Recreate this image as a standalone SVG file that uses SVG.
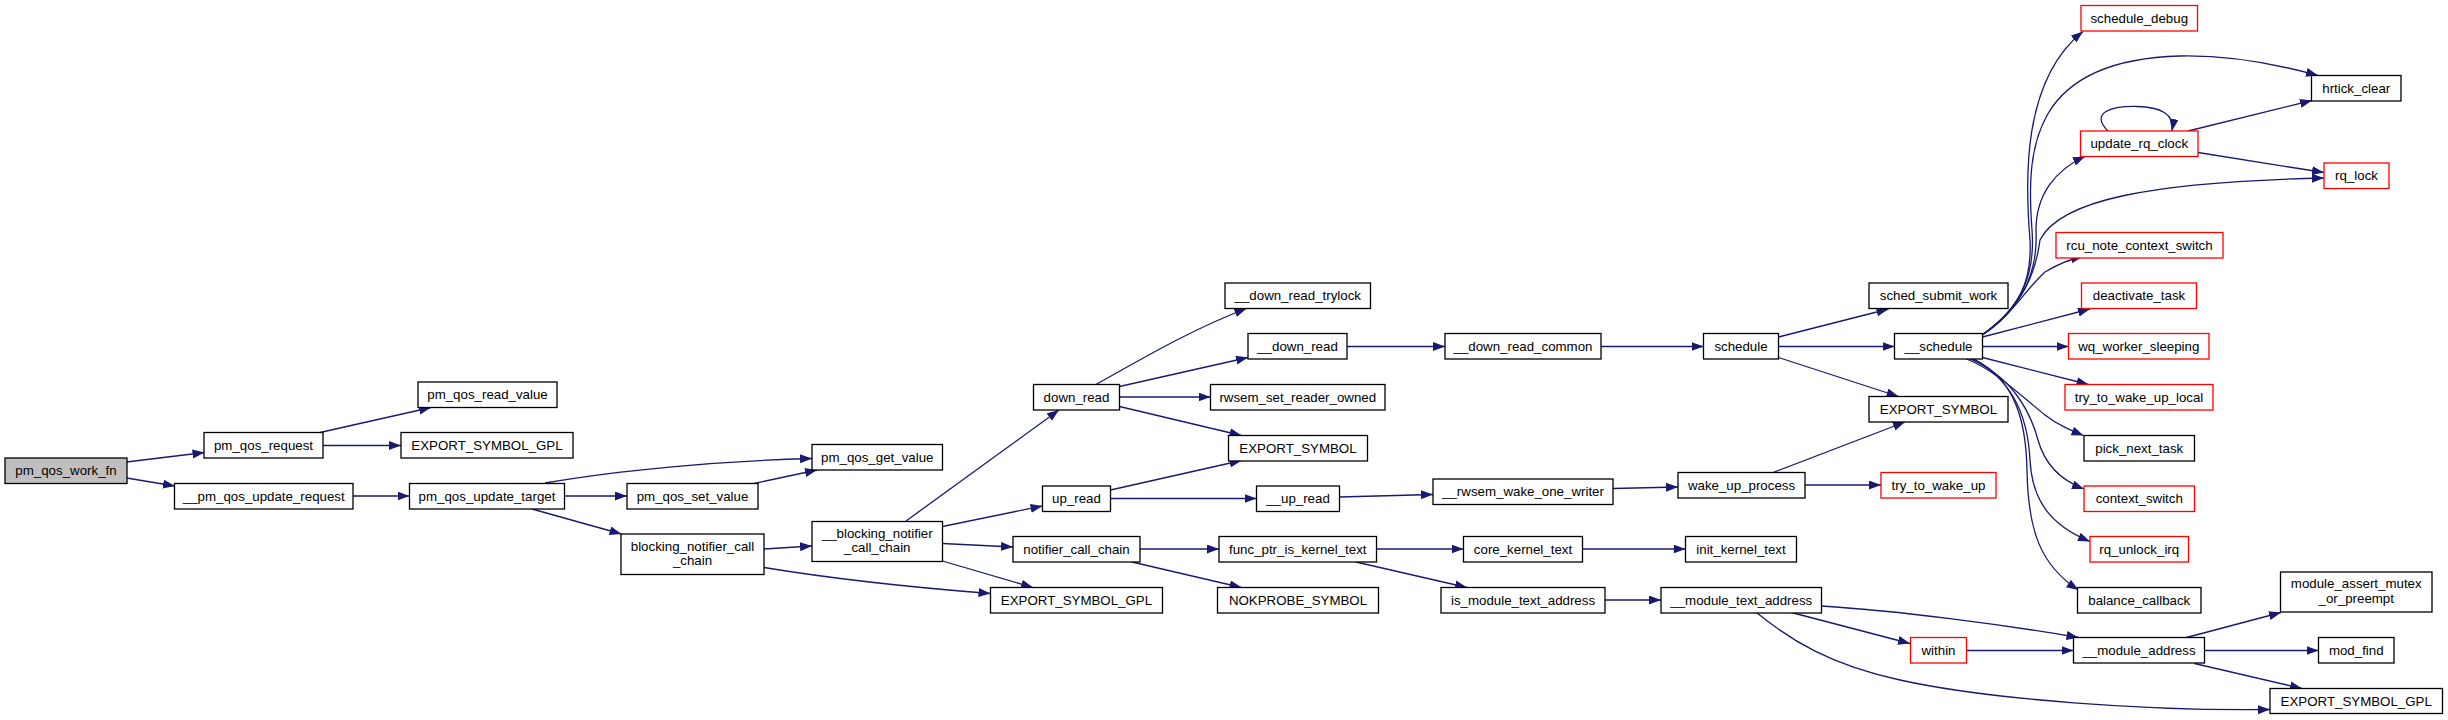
<svg xmlns="http://www.w3.org/2000/svg" width="2448" height="720" viewBox="0 0 2448 720">
<style>
.n rect{fill:#fff;stroke:#000;stroke-width:1.3}
.r rect{fill:#fff;stroke:#ff0000;stroke-width:1.3}
.root rect{fill:#bfbfbf;stroke:#000;stroke-width:1.3}
text{font-family:"Liberation Sans",Arial,sans-serif;font-size:13.3px;fill:#000;text-anchor:middle}
.e path{fill:none;stroke:#191970;stroke-width:1.3;marker-end:url(#a)}
</style>
<defs>
<marker id="a" markerUnits="userSpaceOnUse" markerWidth="13" markerHeight="10" refX="12" refY="4.5" orient="auto"><path d="M0,0 L12,4.5 L0,9 z" fill="#191970"/></marker>
</defs>
<rect width="2448" height="720" fill="#fff"/>
<g id="connectors" class="e">
<path d="M126.5,462 L204.5,452.5"/>
<path d="M126.5,478 L175,486"/>
<path d="M320,432.5 L431,407.5"/>
<path d="M323,445.5 L401,445.5"/>
<path d="M353,496 L409.5,496"/>
<path d="M545,483 C620,470 720,461 812,458.5"/>
<path d="M564.5,496 L627,496"/>
<path d="M532,509 L621.5,534"/>
<path d="M754,483.5 L817,470"/>
<path d="M764,549 L812,546"/>
<path d="M764,567.5 C840,580 920,588 990.5,593.5"/>
<path d="M906,521 L1059,410"/>
<path d="M942.5,526.5 L1042.5,506"/>
<path d="M942.5,543.5 L1013,547"/>
<path d="M942.5,561 L1033,587.5"/>
<path d="M1096,384.5 C1140,360 1190,330 1246.5,308.5"/>
<path d="M1119.5,386.5 L1248,357.5"/>
<path d="M1119.5,397 L1210.5,397"/>
<path d="M1119.5,406.5 L1241.5,435.5"/>
<path d="M1110.5,490 L1241.5,460.5"/>
<path d="M1110.5,498.5 L1256.5,498.5"/>
<path d="M1140,549 L1219,549"/>
<path d="M1132,562 L1241.5,587.5"/>
<path d="M1347,346.5 L1445,346.5"/>
<path d="M1601,346.5 L1703.5,346.5"/>
<path d="M1339,497 L1433,494.5"/>
<path d="M1613,488.5 L1678,487"/>
<path d="M1376.5,549 L1463.5,549"/>
<path d="M1356,562 L1467,587.5"/>
<path d="M1582.5,549 L1685.5,549"/>
<path d="M1605,600 L1661,600"/>
<path d="M1778.5,337 L1888.5,309"/>
<path d="M1778.5,346.5 L1894.5,346.5"/>
<path d="M1778.5,357.5 L1898.5,396.5"/>
<path d="M1773,472.5 L1905,422"/>
<path d="M1805,485 L1881,485"/>
<path d="M1791.5,612.5 L1910,643.5"/>
<path d="M1821.5,606 C1900,611 2000,624 2078.5,637.5"/>
<path d="M1756.5,612.5 C1790,640 1830,665 1900,680 C1990,700 2150,711 2270,709.5"/>
<path d="M1966.5,650.5 L2073.5,650.5"/>
<path d="M2186.5,637.5 L2281,612.5"/>
<path d="M2204.5,650.5 L2318.5,650.5"/>
<path d="M2194.5,663.5 L2302,688.5"/>
<path d="M2108,131 C2090,113 2110,106 2137,106.5 C2160,107 2175,114 2172,131"/>
<path d="M2188,131 L2312,100.5"/>
<path d="M2198,152.5 L2324,172.5"/>
<path d="M1982,335 C2020,310 2032,280 2030,240 C2025,180 2022,80 2083,31.5"/>
<path d="M1982,335 C2025,305 2035,270 2032,230 C2026,150 2030,60 2180,56 C2230,55 2280,65 2318,75.5"/>
<path d="M1982,335 C2025,305 2038,270 2036,230 C2036,195 2055,170 2085,156.5"/>
<path d="M1982,335 C2025,305 2036,270 2040,240 C2060,200 2150,182 2324,178"/>
<path d="M1982,335 C2010,318 2025,290 2045,272 C2060,263 2070,259 2083,256.5"/>
<path d="M1982.5,337 L2090,309"/>
<path d="M1982.5,346.5 L2068.5,346.5"/>
<path d="M1982.5,357.5 L2088.5,384.5"/>
<path d="M1966.5,359 C1995,370 2020,395 2045,415 C2058,425 2070,430 2083.5,435.5"/>
<path d="M1970,359 C2010,375 2030,410 2038,440 C2045,465 2060,480 2084,489"/>
<path d="M1972,359 C2015,380 2028,420 2030,460 C2032,500 2050,525 2090,541.5"/>
<path d="M1974,359 C2015,380 2026,420 2027,470 C2028,530 2040,565 2078.5,590"/>
</g>
<g id="pm_qos_work_fn" class="root"><rect x="5" y="458" width="122" height="25.5"/><text x="66" y="475">pm_qos_work_fn</text></g>
<g id="pm_qos_request" class="n"><rect x="204" y="432.5" width="119" height="25.5"/><text x="263.5" y="449.5">pm_qos_request</text></g>
<g id="pm_qos_read_value" class="n"><rect x="418" y="382" width="139" height="25.5"/><text x="487.5" y="399">pm_qos_read_value</text></g>
<g id="export_symbol_gpl_a" class="n"><rect x="401" y="432.5" width="172" height="25.5"/><text x="487" y="449.5">EXPORT_SYMBOL_GPL</text></g>
<g id="__pm_qos_update_request" class="n"><rect x="174.5" y="483.5" width="178.5" height="25.5"/><text x="263.75" y="500.5">__pm_qos_update_request</text></g>
<g id="pm_qos_update_target" class="n"><rect x="409.5" y="483.5" width="155" height="25.5"/><text x="487" y="500.5">pm_qos_update_target</text></g>
<g id="pm_qos_get_value" class="n"><rect x="812" y="444.5" width="130.5" height="25.5"/><text x="877.25" y="461.5">pm_qos_get_value</text></g>
<g id="pm_qos_set_value" class="n"><rect x="627" y="483.5" width="131" height="25.5"/><text x="692.5" y="500.5">pm_qos_set_value</text></g>
<g id="blocking_notifier_call_chain" class="n"><rect x="621" y="534" width="143" height="40.5"/><text x="692.5" y="550.5">blocking_notifier_call</text><text x="692.5" y="565">_chain</text></g>
<g id="__blocking_notifier_call_chain" class="n"><rect x="812" y="521.5" width="130.5" height="40"/><text x="877.25" y="537.5">__blocking_notifier</text><text x="877.25" y="552">_call_chain</text></g>
<g id="down_read" class="n"><rect x="1033.5" y="384.5" width="86" height="25.5"/><text x="1076.5" y="401.5">down_read</text></g>
<g id="up_read" class="n"><rect x="1042.5" y="486" width="68" height="25.5"/><text x="1076.5" y="503">up_read</text></g>
<g id="notifier_call_chain" class="n"><rect x="1013" y="536.5" width="127" height="25.5"/><text x="1076.5" y="553.5">notifier_call_chain</text></g>
<g id="export_symbol_gpl_b" class="n"><rect x="990.5" y="587.5" width="172" height="25.5"/><text x="1076.5" y="604.5">EXPORT_SYMBOL_GPL</text></g>
<g id="__down_read_trylock" class="n"><rect x="1225" y="283" width="145.5" height="25.5"/><text x="1297.75" y="300">__down_read_trylock</text></g>
<g id="__down_read" class="n"><rect x="1248" y="333.5" width="99" height="25.5"/><text x="1297.5" y="350.5">__down_read</text></g>
<g id="rwsem_set_reader_owned" class="n"><rect x="1210.5" y="384.5" width="174.5" height="25.5"/><text x="1297.75" y="401.5">rwsem_set_reader_owned</text></g>
<g id="export_symbol_a" class="n"><rect x="1228.5" y="435.5" width="139" height="25.5"/><text x="1298" y="452.5">EXPORT_SYMBOL</text></g>
<g id="__up_read" class="n"><rect x="1256.5" y="486" width="83" height="25.5"/><text x="1298" y="503">__up_read</text></g>
<g id="func_ptr_is_kernel_text" class="n"><rect x="1219" y="536.5" width="157.5" height="25.5"/><text x="1297.75" y="553.5">func_ptr_is_kernel_text</text></g>
<g id="nokprobe_symbol" class="n"><rect x="1217.5" y="587.5" width="161" height="25.5"/><text x="1298" y="604.5">NOKPROBE_SYMBOL</text></g>
<g id="__down_read_common" class="n"><rect x="1445" y="333.5" width="156" height="25.5"/><text x="1523" y="350.5">__down_read_common</text></g>
<g id="__rwsem_wake_one_writer" class="n"><rect x="1433" y="479" width="180" height="25.5"/><text x="1523" y="496">__rwsem_wake_one_writer</text></g>
<g id="core_kernel_text" class="n"><rect x="1463.5" y="536.5" width="119" height="25.5"/><text x="1523" y="553.5">core_kernel_text</text></g>
<g id="is_module_text_address" class="n"><rect x="1441" y="587.5" width="164" height="25.5"/><text x="1523" y="604.5">is_module_text_address</text></g>
<g id="schedule" class="n"><rect x="1703.5" y="333.5" width="75" height="25.5"/><text x="1741" y="350.5">schedule</text></g>
<g id="wake_up_process" class="n"><rect x="1678" y="472.5" width="127" height="25.5"/><text x="1741.5" y="489.5">wake_up_process</text></g>
<g id="init_kernel_text" class="n"><rect x="1685.5" y="536.5" width="111" height="25.5"/><text x="1741" y="553.5">init_kernel_text</text></g>
<g id="__module_text_address" class="n"><rect x="1661" y="587.5" width="160.5" height="25.5"/><text x="1741.25" y="604.5">__module_text_address</text></g>
<g id="sched_submit_work" class="n"><rect x="1869" y="283" width="139" height="25.5"/><text x="1938.5" y="300">sched_submit_work</text></g>
<g id="__schedule" class="n"><rect x="1894.5" y="333.5" width="88" height="25.5"/><text x="1938.5" y="350.5">__schedule</text></g>
<g id="export_symbol_b" class="n"><rect x="1869" y="396.5" width="139" height="25.5"/><text x="1938.5" y="413.5">EXPORT_SYMBOL</text></g>
<g id="try_to_wake_up" class="r"><rect x="1881" y="472.5" width="115" height="25.5"/><text x="1938.5" y="489.5">try_to_wake_up</text></g>
<g id="within" class="r"><rect x="1910.5" y="637.5" width="56" height="25.5"/><text x="1938.5" y="654.5">within</text></g>
<g id="schedule_debug" class="r"><rect x="2081" y="5.5" width="116.5" height="25.5"/><text x="2139.25" y="22.5">schedule_debug</text></g>
<g id="update_rq_clock" class="r"><rect x="2080.5" y="131" width="117.5" height="25.5"/><text x="2139.25" y="148">update_rq_clock</text></g>
<g id="rcu_note_context_switch" class="r"><rect x="2056" y="232.5" width="167" height="25.5"/><text x="2139.5" y="249.5">rcu_note_context_switch</text></g>
<g id="deactivate_task" class="r"><rect x="2081.5" y="283" width="115" height="25.5"/><text x="2139" y="300">deactivate_task</text></g>
<g id="wq_worker_sleeping" class="r"><rect x="2068.5" y="333.5" width="140.5" height="25.5"/><text x="2138.75" y="350.5">wq_worker_sleeping</text></g>
<g id="try_to_wake_up_local" class="r"><rect x="2065" y="384.5" width="148" height="25.5"/><text x="2139" y="401.5">try_to_wake_up_local</text></g>
<g id="pick_next_task" class="n"><rect x="2084" y="435.5" width="110.5" height="25.5"/><text x="2139.25" y="452.5">pick_next_task</text></g>
<g id="context_switch" class="r"><rect x="2084" y="486" width="110.5" height="25.5"/><text x="2139.25" y="503">context_switch</text></g>
<g id="rq_unlock_irq" class="r"><rect x="2090" y="536.5" width="98.5" height="25.5"/><text x="2139.25" y="553.5">rq_unlock_irq</text></g>
<g id="balance_callback" class="n"><rect x="2077.5" y="587.5" width="123.5" height="25.5"/><text x="2139.25" y="604.5">balance_callback</text></g>
<g id="__module_address" class="n"><rect x="2073.5" y="637.5" width="131" height="25.5"/><text x="2139" y="654.5">__module_address</text></g>
<g id="hrtick_clear" class="n"><rect x="2311.5" y="75.5" width="89.5" height="25.5"/><text x="2356.25" y="92.5">hrtick_clear</text></g>
<g id="rq_lock" class="r"><rect x="2324" y="163" width="65" height="25.5"/><text x="2356.5" y="180">rq_lock</text></g>
<g id="module_assert_mutex_or_preempt" class="n"><rect x="2280.5" y="572" width="151.5" height="40"/><text x="2356.25" y="588">module_assert_mutex</text><text x="2356.25" y="602.5">_or_preempt</text></g>
<g id="mod_find" class="n"><rect x="2318.5" y="637.5" width="75.5" height="25.5"/><text x="2356.25" y="654.5">mod_find</text></g>
<g id="export_symbol_gpl_c" class="n"><rect x="2270" y="688.5" width="172.5" height="25"/><text x="2356.25" y="705.5">EXPORT_SYMBOL_GPL</text></g>
</svg>
